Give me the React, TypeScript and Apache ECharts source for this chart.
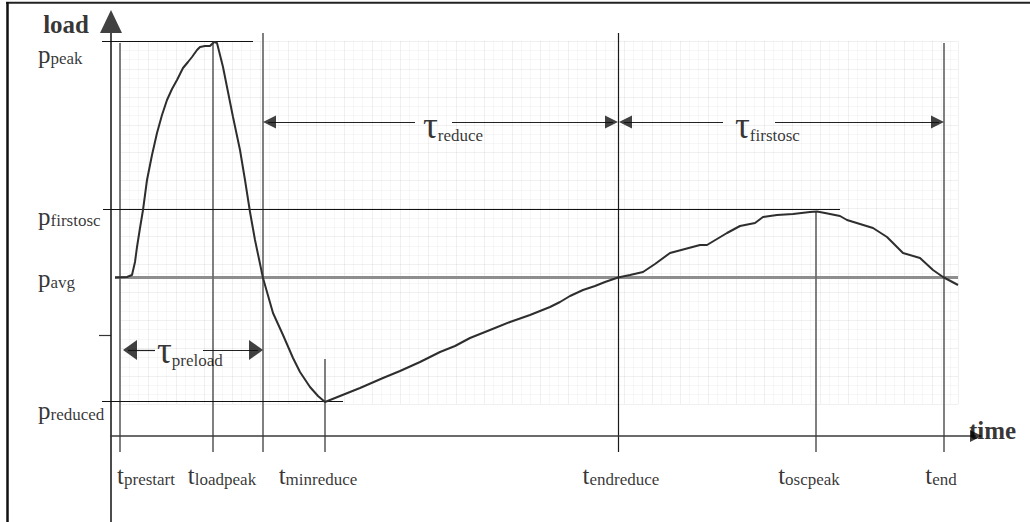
import React, { useEffect, useRef } from "react";
import * as echarts from "echarts";

// ---------------- data (time and load in arbitrary diagram units) ----------------
const instantNames = ["prestart", "loadpeak", "minreduce", "endreduce", "oscpeak", "end"];
const instantTimes = [0.9, 10.2, 21.4, 50.7, 70.5, 83.3];
const instantTops = [39.3, 39.3, 7.7, 40.3, 22.5, 39.3];
const crossTime = 15.2; // curve crosses p_avg: end of preload, start of reduce
const crossTop = 40.3;

const levelNames = ["peak", "firstosc", "avg", "reduced"];
const levelLoads = [39.5, 22.7, 15.85, 3.45];
const levelStarts = [-0.9, -0.8, 0.4, -0.9];
const levelEnds = [14.2, 72.9, 84.7, 23.2];
const extraTickLoad = 10.1;

const spanNames = ["preload", "reduce", "firstosc"];
const spanStarts = [1.2, 15.2, 50.8];
const spanEnds = [15.2, 50.7, 83.3];
const spanLevels = [8.6, 31.4, 31.4];

const curveTime = [
  0.4, 1.6, 2.1, 2.4, 2.6, 2.9, 3.2, 3.6, 4.1, 4.6, 5.1, 5.6, 6.1, 6.6, 7.2, 7.7, 8.1, 8.6, 8.9, 9.4,
  9.9, 10.1, 10.3, 10.6, 10.9, 11.2, 11.7, 12.2, 12.9, 13.4, 13.9, 14.4, 15.2, 16.2, 17.2, 18.2, 18.9,
  19.9, 20.7, 21.4, 21.9, 23.4, 24.9, 27.2, 28.9, 30.9, 32.9, 34.4, 35.9, 37.9, 39.9, 41.9, 43.9, 44.9,
  45.9, 47.2, 48.4, 49.4, 50.7, 51.9, 53.2, 54.4, 55.9, 57.4, 58.9, 59.6, 60.6, 61.6, 62.9, 64.4, 65.2,
  66.6, 68.2, 69.9, 70.6, 71.4, 72.9, 73.6, 74.9, 76.2, 77.6, 79.2, 80.9, 82.2, 83.2, 84.7,
];
const curveLoad = [
  15.85, 15.9, 16.1, 17.4, 18.9, 20.8, 22.6, 25.6, 28.1, 30.3, 32.1, 33.6, 34.7, 35.6, 36.8, 37.4, 37.9,
  38.6, 38.9, 39.0, 39.0, 39.2, 39.4, 39.3, 38.1, 36.9, 34.4, 31.9, 28.6, 25.6, 22.4, 19.6, 15.8, 12.3,
  10.1, 7.8, 6.4, 4.9, 4.0, 3.4, 3.6, 4.2, 4.8, 5.8, 6.5, 7.4, 8.4, 9.0, 9.8, 10.6, 11.4, 12.1, 12.9,
  13.4, 14.0, 14.6, 15.0, 15.4, 15.85, 16.1, 16.4, 17.2, 18.3, 18.7, 19.1, 19.1, 19.7, 20.3, 21.0, 21.3,
  21.9, 22.1, 22.2, 22.4, 22.45, 22.3, 22.0, 21.6, 21.2, 20.8, 19.9, 18.3, 17.8, 16.6, 15.9, 15.1,
];

// ---------------- layout ----------------
const W = 1030;
const H = 522;
const X_MIN = -11.1;
const X_MAX = 91.9;
const Y_MIN = -8.6;
const Y_MAX = 43.6;
const U = 0.1; // data units per pixel
const GUIDE_BOTTOM = -1.6;
const Y_TIP = 42.6;
const X_TIP = 87.1;
const LEVEL_LABEL_X = -7.3;
const INSTANT_LABEL_LEVEL = -3.9;
const levelLabelDy = [13.5, 7, 0.5, 8.5];
const instantLabelDx = [26, 9, -7, 3, -7, -3];
const spanTextLeft = [4.6, 31.2, 62.4];
const spanGapL = [4.4, 30.4, 61.2];
const spanGapR = [9.2, 34.1, 66.4];
const spanLabelDy = [0.5, 3, 3];
const spanHead = [
  [20, 14],
  [13, 13],
  [13, 13],
];
const serif = "'Liberation Serif', 'Times New Roman', serif";

type Seg = { coords: number[][]; lineStyle: any };
const seg = (x1: number, y1: number, x2: number, y2: number, color: string, width: number): Seg => ({
  coords: [
    [x1, y1],
    [x2, y2],
  ],
  lineStyle: { color, width, opacity: 1, type: "solid" },
});

function head(tipX: number, tipY: number, dir: string, base: number, len: number) {
  const h = (len * U) / 2;
  let cx = tipX;
  let cy = tipY;
  let rot = 0;
  if (dir === "left") {
    cx = tipX + h;
    rot = 90;
  } else if (dir === "right") {
    cx = tipX - h;
    rot = -90;
  } else {
    cy = tipY - h;
  }
  return { value: [cx, cy], symbol: "triangle", symbolSize: [base, len], symbolRotate: rot };
}

export default function App() {
  const ref = useRef<HTMLDivElement>(null);
  useEffect(() => {
    if (!ref.current) return;
    const chart = echarts.init(ref.current, null, { renderer: "svg" });

    const guides: Seg[] = [];
    instantTimes.forEach((t, i) => {
      const dark = instantNames[i] === "endreduce";
      guides.push(seg(t, GUIDE_BOTTOM, t, instantTops[i], dark ? "#1a1a1a" : "#6a6a6a", dark ? 1.2 : 1.7));
    });
    guides.push(seg(crossTime, GUIDE_BOTTOM, crossTime, crossTop, "#6a6a6a", 1.7));
    levelLoads.forEach((p, i) => {
      if (levelNames[i] === "avg") return;
      guides.push(seg(levelStarts[i], p, levelEnds[i], p, "#111", 1.1));
    });
    guides.push(seg(-1.2, extraTickLoad, 0, extraTickLoad, "#333", 1.2));
    // axes
    guides.push(seg(0, Y_MIN, 0, Y_TIP - 2.3, "#111", 1.5));
    guides.push(seg(-0.1, 0, X_TIP - 0.6, 0, "#3a3a3a", 1.6));
    // span arrows
    spanStarts.forEach((s, i) => {
      const lv = spanLevels[i];
      guides.push(seg(s + 0.5, lv, spanGapL[i], lv, "#222", 1.2));
      guides.push(seg(spanGapR[i], lv, spanEnds[i] - 0.5, lv, "#222", 1.2));
    });

    const avgIdx = levelNames.indexOf("avg");
    const avgLine = [seg(levelStarts[avgIdx], levelLoads[avgIdx], levelEnds[avgIdx], levelLoads[avgIdx], "#8e8e8e", 3)];

    const heads: any[] = [head(0, Y_TIP, "up", 22, 23), head(X_TIP, 0, "right", 12, 12)];
    spanStarts.forEach((s, i) => {
      const [b, l] = spanHead[i];
      heads.push(head(s, spanLevels[i], "left", b, l));
      heads.push(head(spanEnds[i], spanLevels[i], "right", b, l));
    });

    const labels: any[] = [];
    levelNames.forEach((n, i) => {
      labels.push({
        value: [LEVEL_LABEL_X, levelLoads[i]],
        label: { formatter: `{m|p}{s|${n}}`, align: "left", offset: [0, levelLabelDy[i]] },
      });
    });
    instantNames.forEach((n, i) => {
      labels.push({
        value: [instantTimes[i], INSTANT_LABEL_LEVEL],
        label: { formatter: `{m|t}{s|${n}}`, align: "center", offset: [instantLabelDx[i], 0] },
      });
    });
    spanNames.forEach((n, i) => {
      labels.push({
        value: [spanTextLeft[i], spanLevels[i]],
        label: { formatter: `{g|τ}{gs|${n}}`, align: "left", offset: [0, spanLabelDy[i]] },
      });
    });
    labels.push({ value: [0, Y_TIP], label: { formatter: "{b|load}", align: "right", offset: [-22, 14.6] } });
    labels.push({ value: [X_TIP, 0], label: { formatter: "{b|time}", align: "left", offset: [-13, -5.4] } });

    const paperMajor = "rgba(0,0,0,0.06)";
    const paperMinor = "rgba(0,0,0,0.03)";

    const option: any = {
      animation: false,
      backgroundColor: "#fff",
      grid: [
        { left: 0, right: 0, top: 0, bottom: 0, containLabel: false, outerBoundsMode: "none" },
        { left: 120, right: 72, top: 41, bottom: 118, containLabel: false, outerBoundsMode: "none" },
      ],
      xAxis: [
        { type: "value", gridIndex: 0, min: X_MIN, max: X_MAX, show: false },
        {
          type: "value",
          gridIndex: 1,
          min: 0,
          max: 838,
          interval: 28,
          axisLine: { show: false },
          axisTick: { show: false },
          axisLabel: { show: false },
          splitLine: { show: true, lineStyle: { color: paperMajor, width: 1 } },
          minorTick: { show: false, splitNumber: 3 },
          minorSplitLine: { show: true, lineStyle: { color: paperMinor, width: 1 } },
        },
      ],
      yAxis: [
        { type: "value", gridIndex: 0, min: Y_MIN, max: Y_MAX, show: false },
        {
          type: "value",
          gridIndex: 1,
          min: 0,
          max: 364,
          interval: 28,
          axisLine: { show: false },
          axisTick: { show: false },
          axisLabel: { show: false },
          splitLine: { show: true, lineStyle: { color: paperMajor, width: 1 } },
          minorTick: { show: false, splitNumber: 3 },
          minorSplitLine: { show: true, lineStyle: { color: paperMinor, width: 1 } },
        },
      ],
      graphic: [
        { type: "line", shape: { x1: 6, y1: 2.8, x2: W, y2: 2.8 }, style: { stroke: "#222", lineWidth: 2 }, silent: true },
        { type: "line", shape: { x1: 7.5, y1: 2, x2: 7.5, y2: H }, style: { stroke: "#111", lineWidth: 2.5 }, silent: true },
      ],
      series: [
        {
          type: "lines",
          coordinateSystem: "cartesian2d",
          xAxisIndex: 0,
          yAxisIndex: 0,
          z: 2,
          silent: true,
          data: avgLine,
        },
        {
          type: "lines",
          coordinateSystem: "cartesian2d",
          xAxisIndex: 0,
          yAxisIndex: 0,
          z: 3,
          silent: true,
          data: guides,
        },
        {
          type: "line",
          xAxisIndex: 0,
          yAxisIndex: 0,
          z: 4,
          silent: true,
          showSymbol: false,
          symbol: "none",
          data: curveTime.map((t, i) => [t, curveLoad[i]]),
          lineStyle: { color: "#2e2e2e", width: 2 },
        },
        {
          type: "scatter",
          xAxisIndex: 0,
          yAxisIndex: 0,
          z: 5,
          silent: true,
          itemStyle: { color: "#111" },
          data: heads,
        },
        {
          type: "scatter",
          xAxisIndex: 0,
          yAxisIndex: 0,
          z: 6,
          silent: true,
          symbolSize: 1,
          itemStyle: { color: "rgba(0,0,0,0)" },
          label: {
            show: true,
            position: "inside",
            verticalAlign: "middle",
            color: "#000",
            rich: {
              m: { fontFamily: serif, fontSize: 25, lineHeight: 25, color: "#000" },
              s: { fontFamily: serif, fontSize: 17, lineHeight: 13, color: "#000", verticalAlign: "bottom" },
              g: { fontFamily: serif, fontSize: 37, lineHeight: 37, color: "#000" },
              gs: { fontFamily: serif, fontSize: 17, lineHeight: 19, color: "#000", verticalAlign: "bottom" },
              b: { fontFamily: serif, fontSize: 25, lineHeight: 25, fontWeight: "bold", color: "#000" },
            },
          },
          data: labels,
        },
      ],
    };
    chart.setOption(option);
    return () => chart.dispose();
  }, []);
  return (
    <div
      ref={ref}
      style={{ position: "fixed", left: 0, top: 0, width: W, height: H, background: "#fff" }}
    />
  );
}
